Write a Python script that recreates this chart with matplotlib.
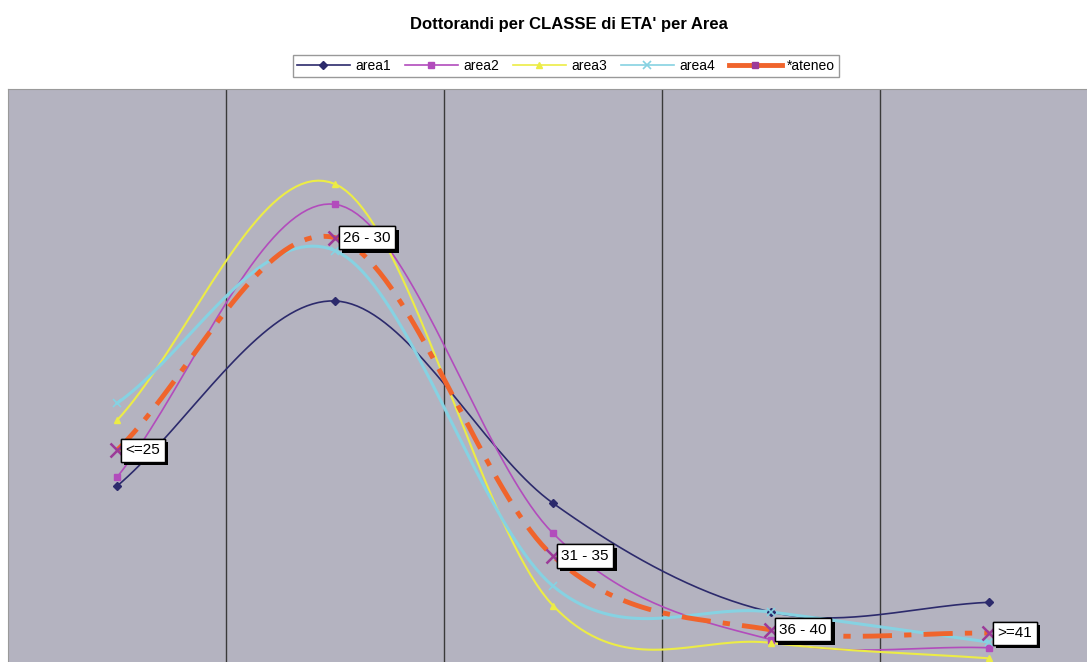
import numpy as np
import matplotlib
matplotlib.use("Agg")
import matplotlib.pyplot as plt
import matplotlib.patheffects as pe

plt.rcParams['font.family'] = ['Liberation Sans', 'DejaVu Sans']

# classi di eta' e percentuali per area
classi = ['<=25', '26 - 30', '31 - 35', '36 - 40', '>=41']
area1 = [21.9, 44.7, 19.8, 6.4, 7.6]
area2 = [23.0, 56.6, 16.1, 3.0, 2.0]
area3 = [30.0, 59.1, 7.2, 2.6, 0.7]
area4 = [32.1, 50.9, 9.6, 6.4, 2.7]
ateneo = [26.3, 52.5, 13.3, 4.2, 3.8]


def smooth(x, y, n=40, k=1.0):
    # curva di Bezier cubica tra i punti, tangenti alla Catmull-Rom
    p = np.column_stack([x, y]).astype(float)
    pad = np.vstack([p[0], p, p[-1]])
    tang = (pad[2:] - pad[:-2]) / 6.0 * k
    tang[0] = (p[1] - p[0]) / 3.0 * k
    tang[-1] = (p[-1] - p[-2]) / 3.0 * k
    t = np.linspace(0, 1, n)[:, None]
    out = []
    for i in range(len(p) - 1):
        b0, b3 = p[i], p[i + 1]
        b1, b2 = b0 + tang[i], b3 - tang[i + 1]
        seg = ((1 - t) ** 3 * b0 + 3 * (1 - t) ** 2 * t * b1
               + 3 * (1 - t) * t ** 2 * b2 + t ** 3 * b3)
        out.append(seg if i == 0 else seg[1:])
    out = np.vstack(out)
    return out[:, 0], out[:, 1]


fig = plt.figure(figsize=(10.87, 6.62), dpi=100)
fig.patch.set_facecolor('white')
# area del grafico: parte da x=8px, y=89px e prosegue oltre il bordo
W, H = 1087, 662
ax = fig.add_axes([8 / W, -2 / H, (1100 - 8) / W, (662 - 89 + 2) / H])
ax.set_facecolor('#b4b3c0')

x = np.arange(len(classi))
serie = [
    ('area1', area1, dict(color='#2c2a6c', lw=1.2, marker='D', ms=4)),
    ('area2', area2, dict(color='#b24cbc', lw=1.2, marker='s', ms=5)),
    ('area3', area3, dict(color='#ecec46', lw=1.5, marker='^', ms=5)),
    ('area4', area4, dict(color='#86d2e2', lw=2.2, marker='x', ms=6, mew=1.2)),
]
handles = []
for nome, vals, st in serie:
    xs, ys = smooth(x, vals)
    ax.plot(xs, ys, color=st['color'], lw=st['lw'], zorder=3)
    ax.plot(x, vals, ls='none', marker=st['marker'], ms=st['ms'], color=st['color'],
            mew=st.get('mew', 1), zorder=4)
    h, = ax.plot([], [], color=st['color'], lw=1.2, marker=st['marker'], ms=st['ms'],
                 mew=st.get('mew', 1))
    handles.append((h, nome))

xs, ys = smooth(x, ateneo)
ax.plot(xs, ys, color='#f0642c', lw=3.5, ls=(0, (6, 2.5, 1.5, 2.5)), zorder=5)
ax.plot(x, ateneo, ls='none', marker='x', ms=10, mew=1.8, color='#9c3a98', zorder=6)
h, = ax.plot([], [], color='#f0642c', lw=3.5, marker='s', ms=5, mfc='#9c3a98', mec='#9c3a98')
handles.append((h, '*ateneo'))

# etichette con il nome della classe sui punti di ateneo
for xi, yi, lab in zip(x, ateneo, classi):
    t = ax.annotate(lab, (xi, yi), xytext=(6, 0), textcoords='offset points',
                    ha='left', va='center', fontsize=11, zorder=8,
                    bbox=dict(boxstyle='square,pad=0.3', fc='white', ec='black', lw=1))
    t.get_bbox_patch().set_path_effects([
        pe.withSimplePatchShadow(offset=(2.5, -2.5), shadow_rgbFace='black', alpha=1.0),
        pe.Normal()])

# griglia verticale tra le classi
for b in x[:-1] + 0.5:
    ax.axvline(b, color='#3a3a3a', lw=1, zorder=1)

ax.set_xlim(-0.5, (1100 - 8) / 218 - 0.5)
ax.set_ylim(0, 70.8)
ax.set_xticks([])
ax.set_yticks([])
for s in ax.spines.values():
    s.set_color('#9a9a9a')

fig.text(569 / W, 1 - 25 / H, "Dottorandi per CLASSE di ETA' per Area",
         ha='center', va='center', fontsize=12, fontweight='bold')

leg = fig.legend([h for h, _ in handles], [n for _, n in handles],
                 loc='center', bbox_to_anchor=(566 / W, 1 - 66 / H), ncol=5,
                 fontsize=10, frameon=True, fancybox=False, handlelength=3.8,
                 columnspacing=1.0, handletextpad=0.4, borderpad=0.3)
leg.get_frame().set_edgecolor('#808080')
leg.get_frame().set_linewidth(1)

fig.savefig('out.png', dpi=100)
